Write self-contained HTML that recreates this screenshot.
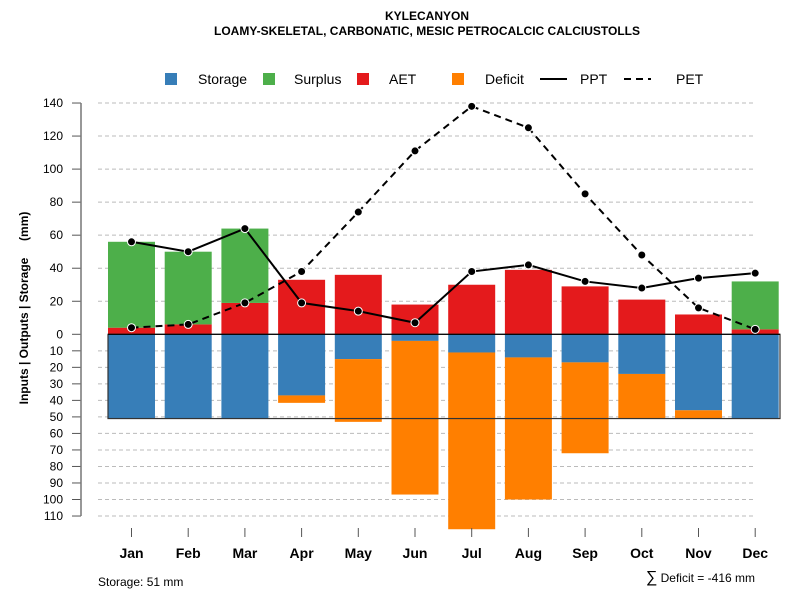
<!DOCTYPE html>
<html><head><meta charset="utf-8"><style>
body{margin:0;background:#fff;font-family:"Liberation Sans",sans-serif}
svg text{font-family:"Liberation Sans",sans-serif}
</style></head><body>
<svg id="c" width="800" height="600" viewBox="0 0 800 600" xmlns="http://www.w3.org/2000/svg">
<text x="427" y="20" text-anchor="middle" font-size="12" font-weight="bold">KYLECANYON</text>
<text x="427" y="35" text-anchor="middle" font-size="12" font-weight="bold">LOAMY-SKELETAL, CARBONATIC, MESIC PETROCALCIC CALCIUSTOLLS</text>
<g font-size="14">
<rect x="165" y="73" width="12" height="12" fill="#377eb8"/><text x="198" y="84">Storage</text>
<rect x="263" y="73" width="12" height="12" fill="#4daf4a"/><text x="294" y="84">Surplus</text>
<rect x="357" y="73" width="12" height="12" fill="#e41a1c"/><text x="389" y="84">AET</text>
<rect x="452" y="73" width="12" height="12" fill="#ff7f00"/><text x="485" y="84">Deficit</text>
<line x1="540" y1="79" x2="567" y2="79" stroke="#000" stroke-width="2"/><text x="580" y="84">PPT</text>
<line x1="624" y1="79" x2="651" y2="79" stroke="#000" stroke-width="2" stroke-dasharray="7,5"/><text x="676" y="84">PET</text>
</g>
<text transform="translate(28,308) rotate(-90)" text-anchor="middle" font-size="12" font-weight="bold" style="white-space:pre">Inputs | Outputs | Storage     (mm)</text>
<g id="grid"></g><g id="bars"></g><g id="axes"></g><g id="lines"></g>
<text x="98" y="586" font-size="12">Storage: 51 mm</text>
<text x="755" y="582" text-anchor="end" font-size="12"><tspan font-size="16">∑</tspan> Deficit = -416 mm</text>
</svg>
<script>
const months=["Jan","Feb","Mar","Apr","May","Jun","Jul","Aug","Sep","Oct","Nov","Dec"];
const aet=[4,6,19,33,36,18,30,39,29,21,12,3];
const surplus=[52,44,45,0,0,0,0,0,0,0,0,29];
const storage=[51,51,51,37,15,4,11,14,17,24,46,51];
const deficit=[0,0,0,4.5,38,93,107,86,55,27,5,0];
const ppt=[56,50,64,19,14,7,38,42,32,28,34,37];
const pet=[4,6,19,38,74,111,138,125,85,48,16,3];
const upTicks=[0,20,40,60,80,100,120,140];
const downTicks=[10,20,30,40,50,60,70,80,90,100,110];
const NS="http://www.w3.org/2000/svg";
const y0=334.3,k=1.652;
const y=v=>y0-v*k;
const x=i=>131.5+i*56.7;
const bw=47;
function mk(p,t,a){const e=document.createElementNS(NS,t);for(const q in a)e.setAttribute(q,a[q]);p.appendChild(e);return e;}
const G=document.getElementById('grid'),B=document.getElementById('bars'),A=document.getElementById('axes'),L=document.getElementById('lines');
upTicks.forEach(v=>{
 if(v>0){const g=mk(G,'line',{x1:98,x2:755,y1:y(v),y2:y(v),stroke:'#bbb','stroke-dasharray':'4,3'});
 
 }
 mk(A,'line',{x1:72,x2:81,y1:y(v),y2:y(v),stroke:'#555'});
 const t=mk(A,'text',{x:63,y:y(v)+4,'text-anchor':'end','font-size':12});t.textContent=v;
 
 
});
downTicks.forEach(v=>{
 const g=mk(G,'line',{x1:98,x2:755,y1:y(-v),y2:y(-v),stroke:'#bbb','stroke-dasharray':'4,3'});
 
 
 mk(A,'line',{x1:72,x2:81,y1:y(-v),y2:y(-v),stroke:'#555'});
 const t=mk(A,'text',{x:63,y:y(-v)+4,'text-anchor':'end','font-size':12});t.textContent=v;
 
 
});
mk(A,'line',{x1:81,x2:81,y1:y(140),y2:y(-110),stroke:'#777','stroke-width':1.5});
months.forEach((m,i)=>{
 const cx=x(i),lx=cx-bw/2;
 const r1=mk(B,'rect',{x:lx,y:y(aet[i]),width:bw,height:aet[i]*k,fill:'#e41a1c'});
 
 
 const r2=mk(B,'rect',{x:lx,y:y(aet[i]+surplus[i]),width:bw,height:surplus[i]*k,fill:'#4daf4a'});
 
 
 const r3=mk(B,'rect',{x:lx,y:y0,width:bw,height:storage[i]*k,fill:'#377eb8'});
 
 
 const r4=mk(B,'rect',{x:lx,y:y(-storage[i]),width:bw,height:deficit[i]*k,fill:'#ff7f00'});
 
 
 mk(A,'line',{x1:cx,x2:cx,y1:528,y2:537,stroke:'#555'});
 const t=mk(A,'text',{x:cx,y:558,'text-anchor':'middle','font-size':14,'font-weight':'bold'});t.textContent=m;
 
 
});
const box=mk(B,'rect',{x:108,y:y0,width:672,height:51*k,fill:'none',stroke:'#333','stroke-width':1.2});


const zl=mk(B,'line',{x1:108,x2:780,y1:y0,y2:y0,stroke:'#000','stroke-width':1.2});


function series(d,name,dash){
 const p=mk(L,'polyline',{points:d.map((v,i)=>x(i)+','+y(v)).join(' '),fill:'none',stroke:'#000','stroke-width':2});
 if(dash)p.setAttribute('stroke-dasharray','7,5');
 
 
 d.forEach((v,i)=>{const c=mk(L,'circle',{cx:x(i),cy:y(v),r:4,fill:'#000',stroke:'#fff','stroke-width':1});
 
 });
}
series(pet,'pet',true);
series(ppt,'ppt',false);
</script>
</body></html>
